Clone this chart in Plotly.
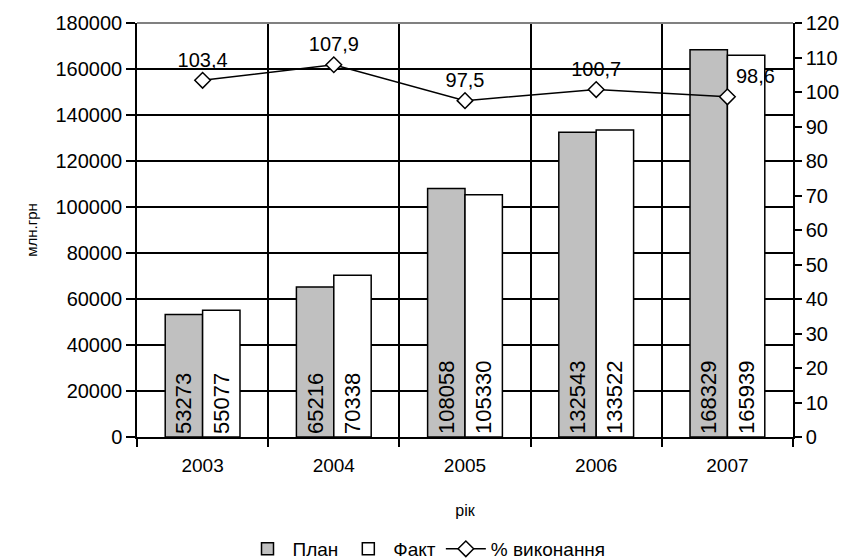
import plotly.graph_objects as go

years = ["2003", "2004", "2005", "2006", "2007"]
plan = [53273, 65216, 108058, 132543, 168329]
fact = [55077, 70338, 105330, 133522, 165939]
pct = [103.4, 107.9, 97.5, 100.7, 98.6]
pct_labels = ["103,4", "107,9", "97,5", "100,7", "98,6"]
pct_text_pos = ["top center", "top center", "top center", "top center", "top right"]

FONT = "Liberation Sans, Arial, sans-serif"

fig = go.Figure()
fig.add_trace(go.Bar(
    x=years, y=plan, name="План",
    marker=dict(color="#C0C0C0", line=dict(color="black", width=1.5)),
    text=[str(v) for v in plan], textposition="inside", textangle=-90,
    insidetextanchor="start", textfont=dict(family=FONT, size=22, color="black"),
))
fig.add_trace(go.Bar(
    x=years, y=fact, name="Факт",
    marker=dict(color="white", line=dict(color="black", width=1.5)),
    text=[str(v) for v in fact], textposition="inside", textangle=-90,
    insidetextanchor="start", textfont=dict(family=FONT, size=22, color="black"),
))
fig.add_trace(go.Scatter(
    x=years, y=pct, name="% виконання", yaxis="y2",
    mode="lines+markers+text",
    line=dict(color="black", width=1.5),
    marker=dict(symbol="diamond", size=12, color="white", line=dict(color="black", width=1.5)),
    text=pct_labels, textposition=pct_text_pos,
    textfont=dict(family=FONT, size=20, color="black"),
))

fig.update_layout(
    width=853, height=559,
    margin=dict(l=137, r=60, t=23, b=122, autoexpand=False),
    paper_bgcolor="white", plot_bgcolor="white",
    font=dict(family=FONT, size=18, color="black"),
    barmode="group", bargap=0.43, bargroupgap=0.0,
    xaxis=dict(
        type="category", tickson="boundaries", showgrid=True, gridcolor="black", gridwidth=1.5,
        showline=True, linecolor="black", linewidth=1.5,
        ticks="outside", ticklen=8, tickcolor="black", tickwidth=1.5,
        tickfont=dict(size=19), automargin=False, ticklabelstandoff=10,
        title=dict(text="рік", font=dict(size=16), standoff=30),
    ),
    yaxis=dict(
        range=[0, 180000], dtick=20000, tickformat="d",
        showgrid=True, gridcolor="black", gridwidth=1.5,
        showline=True, linecolor="black", linewidth=1.5,
        ticks="outside", ticklen=9, tickcolor="black", tickwidth=1.5,
        tickfont=dict(size=20), zeroline=False, automargin=False,
        title=dict(text="млн.грн", font=dict(size=15), standoff=14),
    ),
    yaxis2=dict(
        range=[0, 120], dtick=10, overlaying="y", side="right",
        showgrid=False, showline=True, linecolor="black", linewidth=1.5,
        ticks="outside", ticklen=7, tickcolor="black", tickwidth=1.5,
        tickfont=dict(size=20), zeroline=False, automargin=False,
    ),
    legend=dict(
        orientation="h", xref="container", yref="container",
        x=0.5, xanchor="center", y=0.018, yanchor="middle",
        font=dict(size=19), traceorder="normal", itemwidth=40,
    ),
    showlegend=True,
    shapes=[dict(type="line", xref="paper", yref="paper", x0=0, x1=1, y0=1, y1=1,
                 line=dict(color="#808080", width=2), layer="above")],
)

fig.write_html("out.html", config={"displayModeBar": False})

with open("out.html", "r", encoding="utf-8") as f:
    html = f.read()
html = html.replace("<head>", "<head><style>html,body{margin:0;padding:0;overflow:hidden;}</style>", 1)
with open("out.html", "w", encoding="utf-8") as f:
    f.write(html)
